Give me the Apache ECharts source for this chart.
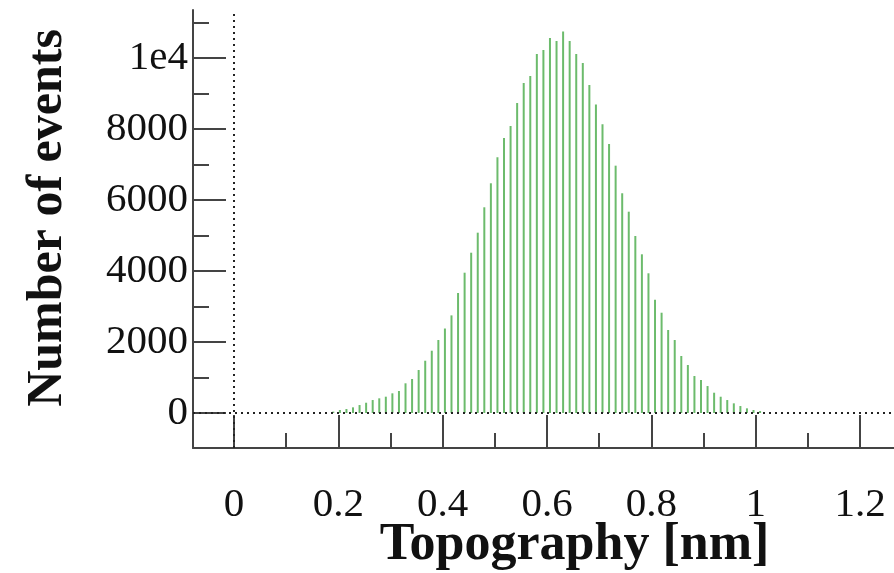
<!DOCTYPE html>
<html>
<head>
<meta charset="utf-8">
<script src="https://cdn.jsdelivr.net/npm/echarts@6/dist/echarts.min.js"></script>
<style>
  html, body { margin: 0; padding: 0; background: #fff; }
  #grafica { width: 894px; height: 573px; }
</style>
</head>
<body>
<div id="grafica"></div>
<script>
// histogram bins (nm)
const binStart = 0.1903;
const binWidth = 0.012585;
const counts = [
  40, 85, 113, 160, 225, 290, 366, 414, 460, 555,
  620, 837, 958, 1211, 1473, 1755, 2056, 2380, 2750, 3380,
  3952, 4515, 5079, 5794, 6470, 7203, 7746, 8085, 8732, 9296,
  9493, 10113, 10225, 10563, 10480, 10741, 10480, 10110, 9855, 9239,
  8690, 8136, 7577, 6966, 6189, 5670, 4986, 4470, 3935, 3190,
  2825, 2338, 2056, 1606, 1352, 1042, 930, 760, 572, 459,
  366, 273, 197, 132, 85, 56
];
const xMajor = [0, 0.2, 0.4, 0.6, 0.8, 1.0, 1.2];
const xMinor = [0.1, 0.3, 0.5, 0.7, 0.9, 1.1];
const yMajor = [0, 2000, 4000, 6000, 8000, 10000];
const yMinor = [1000, 3000, 5000, 7000, 9000, 11000];

const axisCol = '#444';
const serif = 'Liberation Serif';

function Grafica() {
  var dom = document.getElementById('grafica');
  var myChart = echarts.init(dom, null, { renderer: 'canvas' });

  const datos = counts.map(function (c, i) {
    return [binStart + i * binWidth, c];
  });

  var option = {
    animation: false,
    backgroundColor: '#fff',
    grid: { left: 193, right: 0, top: 10, bottom: 125, containLabel: false, outerBoundsMode: 'none' },
    xAxis: [
      {
        type: 'value',
        min: -0.0786,
        max: 1.265,
        axisLine: { show: true, onZero: false, lineStyle: { color: axisCol, width: 2 } },
        axisTick: { show: true, inside: true, length: 33, customValues: xMajor,
          lineStyle: { color: axisCol, width: 2 } },
        axisLabel: { customValues: xMajor, margin: 37, color: '#111',
          fontFamily: serif, fontSize: 41,
          formatter: function (v) { return String(+v.toFixed(1)); } },
        splitLine: { show: false },
        name: 'Topography [nm]',
        nameLocation: 'middle',
        nameGap: 72,
        nameMoveOverlap: false,
        nameTextStyle: { fontFamily: serif, fontWeight: 'bold', fontSize: 52,
          color: '#111', padding: [0, 0, 0, 62] }
      },
      {
        type: 'value',
        min: -0.0786,
        max: 1.265,
        position: 'bottom',
        axisLine: { show: false, onZero: false },
        axisTick: { show: true, inside: true, length: 15, customValues: xMinor,
          lineStyle: { color: axisCol, width: 2 } },
        axisLabel: { show: false },
        splitLine: { show: false }
      }
    ],
    yAxis: [
      {
        type: 'value',
        min: -985,
        max: 11350,
        axisLine: { show: true, onZero: false, lineStyle: { color: axisCol, width: 2 } },
        axisTick: { show: true, inside: true, length: 33, customValues: yMajor,
          lineStyle: { color: axisCol, width: 2 } },
        axisLabel: { customValues: yMajor, margin: 5, color: '#111',
          fontFamily: serif, fontSize: 41,
          formatter: function (v) { return v === 10000 ? '1e4' : String(v); } },
        splitLine: { show: false },
        name: 'Number of events',
        nameLocation: 'middle',
        nameGap: 120,
        nameRotate: 90,
        nameTextStyle: { fontFamily: serif, fontWeight: 'bold', fontSize: 50,
          color: '#111', padding: [0, 0, 0, 22] }
      },
      {
        type: 'value',
        min: -985,
        max: 11350,
        position: 'left',
        axisLine: { show: false, onZero: false },
        axisTick: { show: true, inside: true, length: 16, customValues: yMinor,
          lineStyle: { color: axisCol, width: 2 } },
        axisLabel: { show: false },
        splitLine: { show: false }
      }
    ],
    series: [
      {
        type: 'bar',
        xAxisIndex: 0,
        yAxisIndex: 0,
        barWidth: 2,
        itemStyle: { color: '#6cbb6c' },
        data: datos,
        markLine: {
          silent: true,
          symbol: 'none',
          label: { show: false },
          lineStyle: { color: '#222', type: [2, 4], width: 2 },
          data: [{ xAxis: 0 }, { yAxis: 0 }]
        }
      }
    ]
  };

  myChart.setOption(option);
  window.addEventListener('resize', myChart.resize);
}

Grafica();
</script>
</body>
</html>
